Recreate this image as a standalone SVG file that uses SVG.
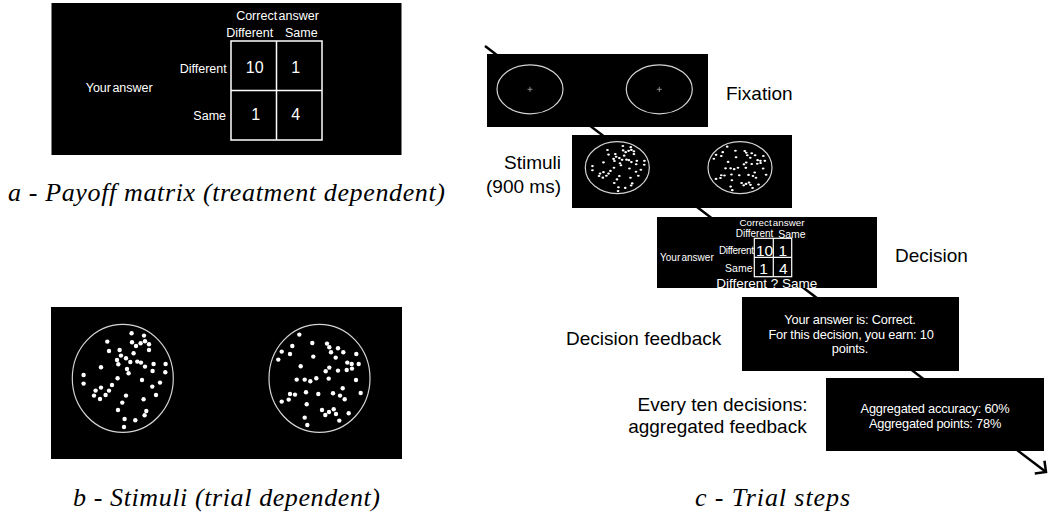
<svg xmlns="http://www.w3.org/2000/svg" xmlns:xlink="http://www.w3.org/1999/xlink" width="1048" height="515" viewBox="0 0 1048 515">
<style>
.box{fill:#000}
.ring{fill:none;stroke:#d4d4d4;stroke-width:1.2}
.grid{fill:none;stroke:#fff;stroke-width:1.5}
.cross{stroke:#aaa;stroke-width:0.8}
.dots circle{fill:#fff}
.w{fill:#fff;font-family:"Liberation Sans",Arial,sans-serif}
.k{fill:#000;font-family:"Liberation Sans",Arial,sans-serif;font-size:19px}
.cap{fill:#000;font-family:"Liberation Serif","Times New Roman",serif;font-style:italic;font-size:26px}
.mid{text-anchor:middle}
.end{text-anchor:end}
.conn{stroke:#000;stroke-width:2.5;fill:none}
</style>
<defs>
<marker id="open" viewBox="0 0 14 14" refX="12" refY="7" markerWidth="14" markerHeight="14" markerUnits="userSpaceOnUse" orient="auto" style="overflow:visible">
<path d="M4,-1 L12,7 L4,15" fill="none" stroke="#000" stroke-width="2.5"/>
</marker>
<g id="dotsL" class="dots">
<circle cx="8.8" cy="-45" r="2.2"/><circle cx="21.2" cy="-42.7" r="2.2"/><circle cx="-15.5" cy="-36.7" r="2.2"/><circle cx="9.2" cy="-36" r="2.2"/><circle cx="13.2" cy="-32.3" r="2.2"/><circle cx="17.8" cy="-35" r="2.2"/><circle cx="22.2" cy="-37" r="2.2"/><circle cx="26.2" cy="-34" r="2.2"/><circle cx="26.2" cy="-28.3" r="2.2"/><circle cx="-13.8" cy="-27.3" r="2.2"/><circle cx="-3.2" cy="-28.3" r="2.2"/><circle cx="10.8" cy="-25" r="2.2"/><circle cx="-1.8" cy="-22.7" r="2.2"/><circle cx="-5.8" cy="-18.3" r="2.2"/><circle cx="3.2" cy="-20" r="2.2"/><circle cx="7.5" cy="-16.3" r="2.2"/><circle cx="-4.5" cy="-14" r="2.2"/><circle cx="14.5" cy="-16.7" r="2.2"/><circle cx="18.2" cy="-15.7" r="2.2"/><circle cx="22.2" cy="-11.7" r="2.2"/><circle cx="30.8" cy="-14.3" r="2.2"/><circle cx="42.8" cy="-14.3" r="2.2"/><circle cx="-21.8" cy="-11" r="2.2"/><circle cx="4.2" cy="-9.3" r="2.2"/><circle cx="5.8" cy="-5" r="2.2"/><circle cx="29.8" cy="-7.3" r="2.2"/><circle cx="42.5" cy="-6" r="2.2"/><circle cx="-39.2" cy="-3.3" r="2.2"/><circle cx="-5.2" cy="0" r="2.2"/><circle cx="19.2" cy="1.7" r="2.2"/><circle cx="-39.2" cy="5.3" r="2.2"/><circle cx="-10.8" cy="6.7" r="2.2"/><circle cx="-21.8" cy="9.3" r="2.2"/><circle cx="37.2" cy="4.3" r="2.2"/><circle cx="29.5" cy="8.3" r="2.2"/><circle cx="-27.2" cy="12.3" r="2.2"/><circle cx="-13.8" cy="12.3" r="2.2"/><circle cx="-28.8" cy="17.3" r="2.2"/><circle cx="-17.2" cy="16.7" r="2.2"/><circle cx="-22.8" cy="20.7" r="2.2"/><circle cx="3.2" cy="17.3" r="2.2"/><circle cx="33.2" cy="16.7" r="2.2"/><circle cx="20.8" cy="21" r="2.2"/><circle cx="-0.5" cy="24.3" r="2.2"/><circle cx="-4.8" cy="31.7" r="2.2"/><circle cx="23.5" cy="32.7" r="2.2"/><circle cx="21.8" cy="37" r="2.2"/><circle cx="1.8" cy="40.7" r="2.2"/><circle cx="12.5" cy="42" r="2.2"/><circle cx="1.2" cy="48.7" r="2.2"/>
</g>
<g id="dotsR" class="dots">
<circle cx="-20.2" cy="-43.7" r="2.2"/><circle cx="-37.8" cy="-26.7" r="2.2"/><circle cx="-27.2" cy="-32.3" r="2.2"/><circle cx="-7.2" cy="-35.3" r="2.2"/><circle cx="7.5" cy="-34.7" r="2.2"/><circle cx="9.8" cy="-31" r="2.2"/><circle cx="18.5" cy="-30" r="2.2"/><circle cx="-29.5" cy="-24.3" r="2.2"/><circle cx="11.5" cy="-26" r="2.2"/><circle cx="23.8" cy="-26" r="2.2"/><circle cx="-41.2" cy="-18.7" r="2.2"/><circle cx="-6.2" cy="-21.7" r="2.2"/><circle cx="16.2" cy="-20.7" r="2.2"/><circle cx="36.8" cy="-24.3" r="2.2"/><circle cx="27.8" cy="-15.7" r="2.2"/><circle cx="32.2" cy="-14.3" r="2.2"/><circle cx="39.2" cy="-14.3" r="2.2"/><circle cx="-18.8" cy="-12" r="2.2"/><circle cx="9.8" cy="-10.7" r="2.2"/><circle cx="6.2" cy="-7" r="2.2"/><circle cx="18.5" cy="-7.7" r="2.2"/><circle cx="27.2" cy="-8.3" r="2.2"/><circle cx="32.5" cy="-9.7" r="2.2"/><circle cx="-22.8" cy="1.3" r="2.2"/><circle cx="-14.8" cy="1.3" r="2.2"/><circle cx="-9.2" cy="3" r="2.2"/><circle cx="-3.2" cy="0" r="2.2"/><circle cx="9.2" cy="0.3" r="2.2"/><circle cx="36.5" cy="1.7" r="2.2"/><circle cx="-13.5" cy="14" r="2.2"/><circle cx="-29.5" cy="15.7" r="2.2"/><circle cx="-24.5" cy="16.3" r="2.2"/><circle cx="-1.2" cy="15.7" r="2.2"/><circle cx="13.5" cy="15" r="2.2"/><circle cx="23.2" cy="10" r="2.2"/><circle cx="20.5" cy="17.3" r="2.2"/><circle cx="25.2" cy="21" r="2.2"/><circle cx="41.2" cy="14.7" r="2.2"/><circle cx="-37.8" cy="23.3" r="2.2"/><circle cx="-30.8" cy="21.3" r="2.2"/><circle cx="-12.8" cy="26" r="2.2"/><circle cx="2.5" cy="31.7" r="2.2"/><circle cx="5.8" cy="36.7" r="2.2"/><circle cx="9.5" cy="33.7" r="2.2"/><circle cx="14.2" cy="31" r="2.2"/><circle cx="16.5" cy="35.7" r="2.2"/><circle cx="-14.8" cy="39.3" r="2.2"/><circle cx="29.2" cy="35" r="2.2"/><circle cx="19.8" cy="42.3" r="2.2"/><circle cx="-12.2" cy="46.7" r="2.2"/>
</g>
</defs>
<rect width="1048" height="515" fill="#fff"/>

<g id="panel-a">
<rect class="box" x="51.5" y="3" width="350" height="152"/>
<text class="w mid" x="277.5" y="19.5" font-size="12.5" word-spacing="-2">Correct answer</text>
<text class="w mid" x="249.7" y="36.8" font-size="12.5">Different</text>
<text class="w mid" x="301.3" y="36.8" font-size="12.5">Same</text>
<rect class="grid" x="231" y="41" width="91" height="99"/>
<line class="grid" x1="276.5" y1="41" x2="276.5" y2="140"/>
<line class="grid" x1="231" y1="90.5" x2="322" y2="90.5"/>
<text class="w end" x="226.7" y="72.8" font-size="12.5">Different</text>
<text class="w end" x="226" y="120.2" font-size="12.5">Same</text>
<text class="w" x="85.7" y="91.8" font-size="12.5" word-spacing="-2">Your answer</text>
<text class="w mid" x="254.7" y="73.4" font-size="16">10</text>
<text class="w mid" x="295.7" y="73.4" font-size="16">1</text>
<text class="w mid" x="255.7" y="119.7" font-size="16">1</text>
<text class="w mid" x="295.7" y="119.7" font-size="16">4</text>
</g>
<text class="cap" x="8" y="200.5" textLength="437" lengthAdjust="spacing">a - Payoff matrix (treatment dependent)</text>

<g id="panel-b">
<rect class="box" x="51" y="307" width="351" height="152"/>
<ellipse class="ring" cx="122.8" cy="378.3" rx="50.5" ry="54"/>
<ellipse class="ring" cx="319.5" cy="378.3" rx="50.5" ry="54"/>
<use xlink:href="#dotsL" href="#dotsL" transform="translate(122.8,378.3)"/>
<use xlink:href="#dotsR" href="#dotsR" transform="translate(319.5,378.3)"/>
</g>
<text class="cap" x="73" y="505.5" textLength="307" lengthAdjust="spacing">b - Stimuli (trial dependent)</text>

<g id="connectors">
<line class="conn" x1="485" y1="46" x2="1046" y2="472" marker-end="url(#open)"/>
</g>

<g id="step-fixation">
<rect class="box" x="487" y="54" width="221" height="73"/>
<ellipse class="ring" cx="530" cy="89.3" rx="33" ry="24.5"/>
<ellipse class="ring" cx="659.3" cy="89.3" rx="33" ry="24.5"/>
<path class="cross" d="M527.5,89.3h5M530,86.8v5M656.8,89.3h5M659.3,86.8v5"/>
<text class="k" x="726" y="99.5">Fixation</text>
</g>

<g id="step-stimuli">
<rect class="box" x="572" y="135" width="220" height="73"/>
<ellipse class="ring" cx="617.3" cy="167.7" rx="32" ry="26"/>
<ellipse class="ring" cx="740" cy="167.7" rx="32" ry="26"/>
<use xlink:href="#dotsL" href="#dotsL" transform="translate(617.3,167.7) scale(0.634,0.481)"/>
<use xlink:href="#dotsR" href="#dotsR" transform="translate(740,167.7) scale(0.634,0.481)"/>
<text class="k end" x="561" y="169.3">Stimuli</text>
<text class="k end" x="561" y="192.5">(900 ms)</text>
</g>

<g id="step-decision">
<rect class="box" x="657" y="217" width="220" height="71"/>
<text class="w mid" x="772" y="226" font-size="9.8" word-spacing="-1.5">Correct answer</text>
<text class="w mid" x="754.5" y="236.5" font-size="10">Different</text>
<text class="w mid" x="792" y="238.3" font-size="10.5">Same</text>
<rect class="grid" x="754.3" y="238.3" width="37.4" height="38.4" style="stroke-width:1.2"/>
<line class="grid" x1="773.3" y1="238.3" x2="773.3" y2="276.7" style="stroke-width:1.2"/>
<line class="grid" x1="754.3" y1="257.3" x2="791.7" y2="257.3" style="stroke-width:1.2"/>
<text class="w mid" x="764.5" y="256.3" font-size="15.5">10</text>
<text class="w mid" x="782.7" y="256.3" font-size="15.5">1</text>
<text class="w mid" x="763.5" y="274" font-size="15.5">1</text>
<text class="w mid" x="783.3" y="274" font-size="15.5">4</text>
<text class="w end" x="753.8" y="254" font-size="10" letter-spacing="-0.3">Different</text>
<text class="w" x="660" y="260.7" font-size="10" word-spacing="-1.5">Your answer</text>
<text class="w end" x="752.5" y="272.3" font-size="10.5">Same</text>
<text class="w mid" x="766.8" y="288" font-size="13.5">Different ? Same</text>
<text class="k" x="895" y="261.7">Decision</text>
</g>

<g id="step-feedback">
<rect class="box" x="742" y="297" width="217" height="74"/>
<text class="w mid" x="850" y="324" font-size="12.8" letter-spacing="-0.2">Your answer is: Correct.</text>
<text class="w mid" x="851" y="338.7" font-size="12.8" letter-spacing="-0.2">For this decision, you earn: 10</text>
<text class="w mid" x="850" y="353.3" font-size="12.8" letter-spacing="-0.2">points.</text>
<text class="k" x="566" y="345">Decision feedback</text>
</g>

<g id="step-aggregated">
<rect class="box" x="826" y="378" width="218" height="73"/>
<text class="w mid" x="935" y="412.5" font-size="12.8" letter-spacing="-0.2">Aggregated accuracy: 60%</text>
<text class="w mid" x="935" y="427.5" font-size="12.8" letter-spacing="-0.2">Aggregated points: 78%</text>
<text class="k end" x="807.5" y="410.7">Every ten decisions:</text>
<text class="k end" x="806.7" y="432.7">aggregated feedback</text>
</g>

<text class="cap" x="695" y="505.5" textLength="155" lengthAdjust="spacing">c - Trial steps</text>
</svg>
